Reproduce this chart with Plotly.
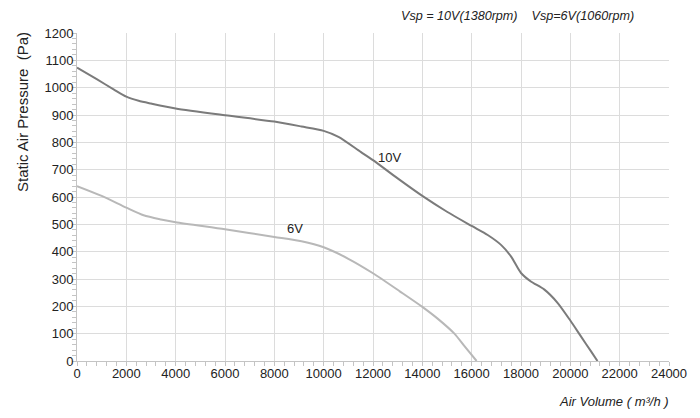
import plotly.graph_objects as go

# --- curve data ---
flow_10v = [0, 800, 1500, 2000, 2500, 3000, 4000, 6000, 8000, 9100, 10000, 10600,
            11500, 12000, 13000, 14000, 15000, 16000, 16650, 17200, 17600,
            18000, 18400, 18950, 19490, 20000, 20430, 20840, 21100]
pres_10v = [1073, 1031, 993, 967, 952, 942, 924, 899, 876, 858, 842, 820,
            765, 735, 668, 604, 546, 494, 461, 424, 382,
            322, 291, 261, 212, 148, 90, 35, 0]

flow_6v = [0, 1000, 2000, 2700, 3400, 4000, 6000, 8000, 9100, 10000, 11000,
           12000, 13100, 14000, 14620, 15300, 15700, 16200]
pres_6v = [640, 604, 561, 533, 518, 508, 482, 454, 438, 416, 374,
           321, 254, 198, 155, 100, 55, 0]

curve_labels = ["10V", "6V"]
label_pos = [(12650, 746), (8850, 483)]

x_ticks = list(range(0, 24001, 2000))
y_ticks = list(range(0, 1201, 100))

FONT = "Liberation Sans, Arial, sans-serif"
GRID = "#dcdcdc"

fig = go.Figure()
fig.add_trace(go.Scatter(x=flow_10v, y=pres_10v, mode="lines",
                         line=dict(color="#7b7b7b", width=2, shape="spline", smoothing=0.7),
                         name="10V", hoverinfo="x+y"))
fig.add_trace(go.Scatter(x=flow_6v, y=pres_6v, mode="lines",
                         line=dict(color="#b8b8b8", width=2, shape="spline", smoothing=0.7),
                         name="6V", hoverinfo="x+y"))

for txt, (lx, ly) in zip(curve_labels, label_pos):
    fig.add_annotation(x=lx, y=ly, text=txt, showarrow=False,
                       font=dict(size=13, color="#222222", family=FONT))

# header and axis titles placed like the original sheet
fig.add_annotation(xref="paper", yref="paper", x=0.945, y=1.052, xanchor="right",
                   yanchor="middle", showarrow=False,
                   text="<i>Vsp = 10V(1380rpm)    Vsp=6V(1060rpm)</i>",
                   font=dict(size=12.6, color="#222222", family=FONT))
fig.add_annotation(xref="paper", yref="paper", x=1.004, y=-0.124, xanchor="right",
                   yanchor="middle", showarrow=False,
                   text="<i>Air Volume ( m³/h )</i>",
                   font=dict(size=13, color="#222222", family=FONT))
fig.add_annotation(xref="paper", yref="paper", x=-0.093, y=0.759, xanchor="center",
                   yanchor="middle", showarrow=False, textangle=-90,
                   text="Static Air Pressure  (Pa)",
                   font=dict(size=15, color="#222222", family=FONT))

fig.update_xaxes(range=[0, 24000], tickvals=x_ticks, ticktext=[str(v) for v in x_ticks],
                 showgrid=True, gridcolor=GRID,
                 gridwidth=1, showline=True, linecolor="#c4c4c4", linewidth=1,
                 ticks="", zeroline=False,
                 minor=dict(dtick=400, ticks="outside", ticklen=4, tickcolor="#c4c4c4",
                            showgrid=False),
                 tickfont=dict(size=13, color="#222222", family=FONT))
fig.update_yaxes(range=[0, 1200], tickvals=y_ticks, ticktext=[str(v) for v in y_ticks],
                 showgrid=True, gridcolor=GRID,
                 gridwidth=1, showline=True, linecolor="#c4c4c4", linewidth=1,
                 ticks="", zeroline=False,
                 minor=dict(dtick=20, ticks="outside", ticklen=4, tickcolor="#c4c4c4",
                            showgrid=False),
                 tickfont=dict(size=13, color="#222222", family=FONT))

fig.update_layout(
    width=700, height=418,
    margin=dict(l=69, r=39, t=25, b=65),
    plot_bgcolor="white", paper_bgcolor="white",
    showlegend=False,
    font=dict(family=FONT),
)

fig.write_html("out.html")
